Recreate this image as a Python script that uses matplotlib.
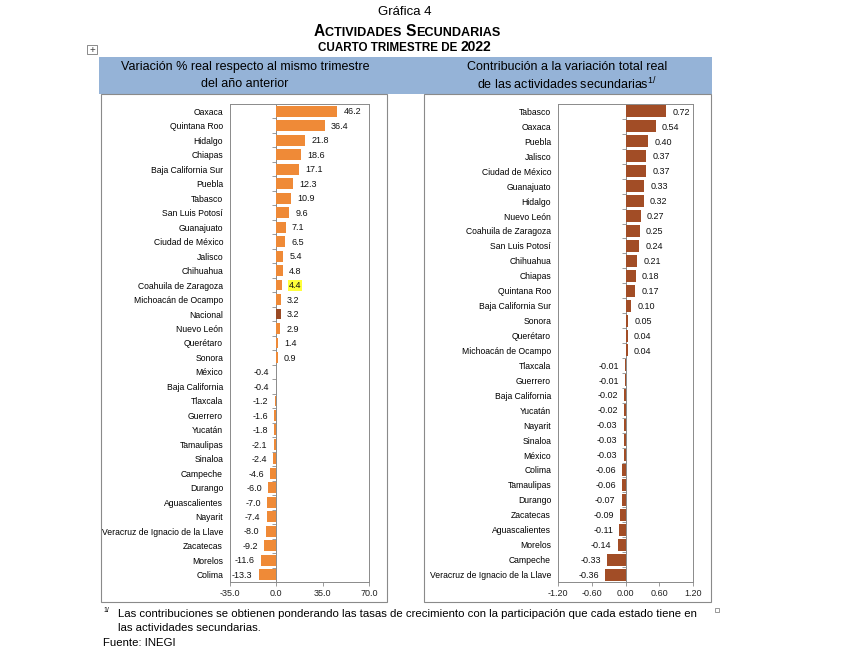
import matplotlib
matplotlib.use("Agg")
import matplotlib.pyplot as plt
from matplotlib.patches import Rectangle
from matplotlib.offsetbox import TextArea, HPacker, AnnotationBbox

plt.rcParams['font.family'] = ['Liberation Sans', 'DejaVu Sans']

# ---------------- data ----------------
left_states = ["Oaxaca", "Quintana Roo", "Hidalgo", "Chiapas", "Baja California Sur",
               "Puebla", "Tabasco", "San Luis Potosí", "Guanajuato", "Ciudad de México",
               "Jalisco", "Chihuahua", "Coahuila de Zaragoza", "Michoacán de Ocampo",
               "Nacional", "Nuevo León", "Querétaro", "Sonora", "México", "Baja California",
               "Tlaxcala", "Guerrero", "Yucatán", "Tamaulipas", "Sinaloa", "Campeche",
               "Durango", "Aguascalientes", "Nayarit", "Veracruz de Ignacio de la Llave",
               "Zacatecas", "Morelos", "Colima"]
left_values = [46.2, 36.4, 21.8, 18.6, 17.1, 12.3, 10.9, 9.6, 7.1, 6.5, 5.4, 4.8, 4.4,
               3.2, 3.2, 2.9, 1.4, 0.9, -0.4, -0.4, -1.2, -1.6, -1.8, -2.1, -2.4, -4.6,
               -6.0, -7.0, -7.4, -8.0, -9.2, -11.6, -13.3]
left_ticks = [-35.0, 0.0, 35.0, 70.0]

right_states = ["Tabasco", "Oaxaca", "Puebla", "Jalisco", "Ciudad de México", "Guanajuato",
                "Hidalgo", "Nuevo León", "Coahuila de Zaragoza", "San Luis Potosí",
                "Chihuahua", "Chiapas", "Quintana Roo", "Baja California Sur", "Sonora",
                "Querétaro", "Michoacán de Ocampo", "Tlaxcala", "Guerrero", "Baja California",
                "Yucatán", "Nayarit", "Sinaloa", "México", "Colima", "Tamaulipas", "Durango",
                "Zacatecas", "Aguascalientes", "Morelos", "Campeche",
                "Veracruz de Ignacio de la Llave"]
right_values = [0.72, 0.54, 0.40, 0.37, 0.37, 0.33, 0.32, 0.27, 0.25, 0.24, 0.21, 0.18,
                0.17, 0.10, 0.05, 0.04, 0.04, -0.01, -0.01, -0.02, -0.02, -0.03, -0.03,
                -0.03, -0.06, -0.06, -0.07, -0.09, -0.11, -0.14, -0.33, -0.36]
right_ticks = [-1.20, -0.60, 0.00, 0.60, 1.20]

national_label = "Nacional"
highlight_label = "Coahuila de Zaragoza"

# ---------------- style ----------------
ORANGE = '#EF8A37'
BROWN = '#A24D26'
NAT = '#9A4A24'
GRAY = '#8A8A8A'
BAND = '#95B3D7'

W, H = 845, 659
fig = plt.figure(figsize=(W / 100, H / 100), dpi=100)


def fx(px):
    return px / W


def fy(py):
    return 1 - py / H


# header band and panel frames
fig.add_artist(Rectangle((fx(99), fy(94)), (712 - 99) / W, (94 - 57) / H,
                         transform=fig.transFigure, facecolor=BAND, edgecolor='none', zorder=0))
for x0, x1 in [(101, 387), (424, 711)]:
    fig.add_artist(Rectangle((fx(x0), fy(602)), (x1 - x0) / W, (602 - 94) / H,
                             transform=fig.transFigure, facecolor='none',
                             edgecolor=GRAY, lw=0.8, zorder=1))

# icons
fig.add_artist(Rectangle((fx(87), fy(54)), 10 / W, 9 / H, transform=fig.transFigure,
                         facecolor='white', edgecolor='#777777', lw=0.6))
fig.text(fx(92), fy(49.5), "+", fontsize=7, ha='center', va='center', color='#444444')
fig.add_artist(Rectangle((fx(715), fy(612)), 4.5 / W, 4.5 / H, transform=fig.transFigure,
                         facecolor='white', edgecolor='#888888', lw=0.6))

# titles
fig.text(fx(405), fy(12), "Gráfica 4", fontsize=9.5, ha='center', va='center')


def packed(parts, xy):
    areas = [TextArea(t, textprops=dict(fontsize=s, fontweight='bold')) for t, s in parts]
    box = HPacker(children=areas, align="baseline", pad=0, sep=0)
    ab = AnnotationBbox(box, xy, xycoords='figure fraction', frameon=False,
                        box_alignment=(0.5, 0.5), pad=0)
    fig.add_artist(ab)


packed([("A", 11.2), ("CTIVIDADES ", 9.1), ("S", 11.2), ("ECUNDARIAS", 9.1)], (fx(407), fy(31)))
packed([("CUARTO TRIMESTRE DE ", 8.4), ("2022", 10)], (fx(405), fy(47)))

HS = 9.0
fig.text(fx(245), fy(67), "Variación % real respecto al mismo trimestre", fontsize=HS,
         ha='center', va='center')
fig.text(fx(245), fy(84), "del año anterior", fontsize=HS, ha='center', va='center')
fig.text(fx(567), fy(67), "Contribución a la variación total real", fontsize=HS,
         ha='center', va='center')
fig.text(fx(567), fy(84), r"de las actividades secundarias$^{\mathregular{1/}}$", fontsize=HS,
         ha='center', va='center')

# footnote
fig.text(fx(103), fy(610), "1/", fontsize=5, ha='left', va='center')
fig.text(fx(118), fy(614),
         "Las contribuciones se obtienen ponderando las tasas de crecimiento con la participación que cada estado tiene en",
         fontsize=8.2, ha='left', va='center')
fig.text(fx(118), fy(628), "las actividades secundarias.", fontsize=8.2, ha='left', va='center')
fig.text(fx(103), fy(643), "Fuente: INEGI", fontsize=8.2, ha='left', va='center')


def panel(rect, cats, vals, colors, xlim, xticks, fmt, height, highlight=None):
    ax = fig.add_axes(rect)
    n = len(cats)
    y = list(range(n))
    ax.barh(y, vals, height=height, color=colors, zorder=2)
    ax.set_ylim(n - 0.5, -0.5)
    ax.set_xlim(xlim)
    ax.set_yticks(y)
    ax.set_yticklabels(cats, fontsize=6.2)
    ax.tick_params(axis='y', length=0, pad=5)
    ax.set_xticks(xticks)
    ax.set_xticklabels([fmt.format(t) for t in xticks])
    ax.tick_params(axis='x', length=3, width=0.6, color=GRAY, labelsize=6.5, pad=2,
                   labelcolor='#222222')
    for s in ax.spines.values():
        s.set_color(GRAY)
        s.set_linewidth(0.7)
    # zero axis with category separators
    loc = (0 - xlim[0]) / (xlim[1] - xlim[0])
    sec = ax.secondary_yaxis(loc)
    sec.set_yticks([i + 0.5 for i in range(n - 1)])
    sec.yaxis.set_ticks_position('left')
    sec.tick_params(axis='y', direction='out', length=3, width=0.6, color=GRAY,
                    labelleft=False, labelright=False)
    for s in sec.spines.values():
        s.set_color(GRAY)
        s.set_linewidth(0.7)
    for i, v in enumerate(vals):
        off = 4.5 if v >= 0 else -4.5
        kw = {}
        if highlight is not None and cats[i] == highlight:
            kw['bbox'] = dict(facecolor='#FFFF3A', edgecolor='none', pad=0.6)
        ax.annotate(fmt.format(v), (v, i), xytext=(off, -0.5), textcoords='offset points',
                    ha='left' if v >= 0 else 'right', va='center', fontsize=6.5,
                    color='#111111', **kw)
    return ax


left_colors = [NAT if c == national_label else ORANGE for c in left_states]
panel([fx(230), fy(582), (369 - 230) / W, (582 - 104) / H], left_states, left_values,
      left_colors, (-35, 70), left_ticks, "{:.1f}", 0.75, highlight=highlight_label)

panel([fx(558), fy(582), (693 - 558) / W, (582 - 104) / H], right_states, right_values,
      BROWN, (-1.2, 1.2), right_ticks, "{:.2f}", 0.8)

fig.savefig("out.png", dpi=100)
